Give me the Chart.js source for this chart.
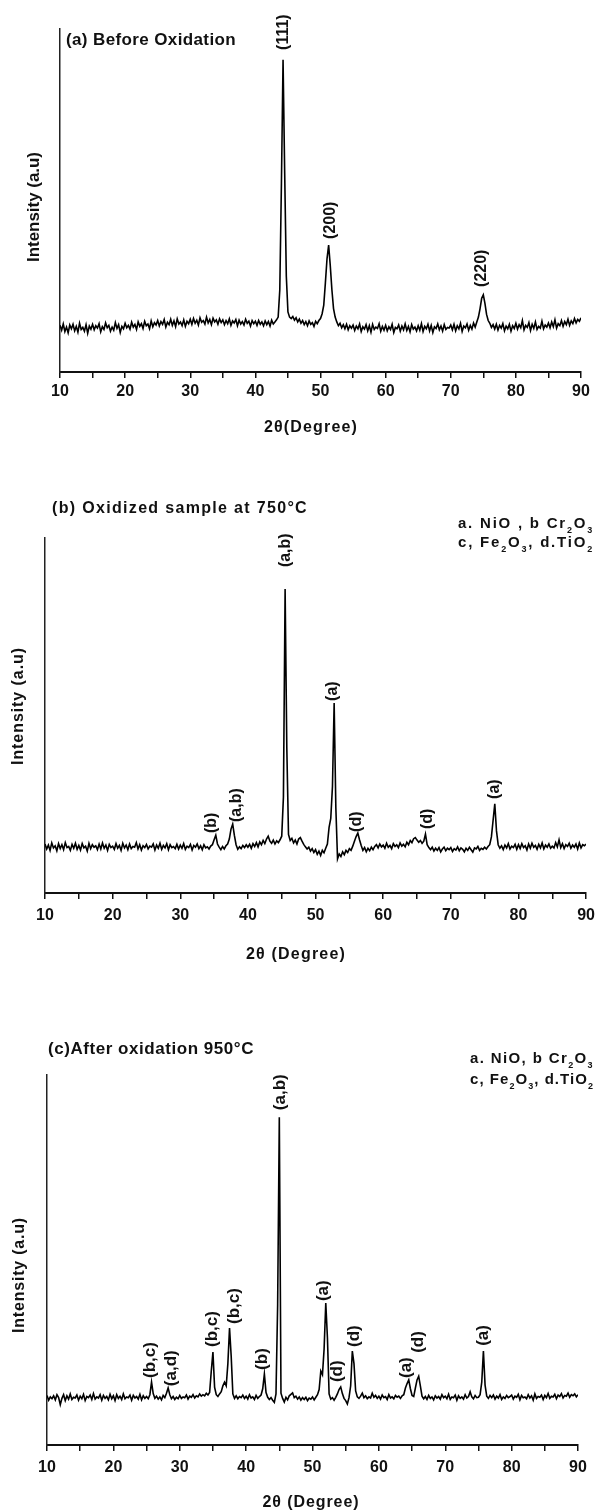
<!DOCTYPE html>
<html><head><meta charset="utf-8">
<script src="https://cdn.jsdelivr.net/npm/chart.js@4"></script>
<style>
html,body{margin:0;padding:0;background:#fff;}
#wrap{position:relative;width:602px;height:1512px;overflow:hidden;background:#fff;}
canvas{position:absolute;left:0;}
</style></head><body>
<div id="wrap">
<canvas id="ca" width="602" height="450" style="top:0px"></canvas>
<canvas id="cb" width="602" height="500" style="top:470px"></canvas>
<canvas id="cc" width="602" height="522" style="top:990px"></canvas>
</div>
<script>
// ---------- data ----------
const X_START = 10;        // first 2θ sample (degree)
const X_STEP = 0.25;       // sampling step (degree)
const X_MIN = 10, X_MAX = 90, TICK_STEP = 5;
const TICK_LABELS = [10, 20, 30, 40, 50, 60, 70, 80, 90];

// (a) Before oxidation, intensity (a.u., 0-100 scale)
const intensityA = [
13.6,12.2,14.0,11.8,13.1,11.4,13.7,12.6,13.9,12.0,13.3,11.6,14.2,12.4,13.0,11.9,13.8,11.3,13.4,12.5,
13.9,12.3,13.5,12.8,14.1,11.7,13.2,12.4,14.3,12.9,13.6,11.9,13.1,12.2,14.4,12.7,13.8,11.5,13.3,12.6,
14.2,12.9,13.6,12.5,14.5,13.1,13.9,12.4,14.6,13.3,14.1,12.7,14.8,13.5,14.0,12.6,14.9,13.2,14.4,13.7,
15.0,13.4,14.7,13.9,15.3,13.1,14.5,13.8,15.4,13.6,14.9,13.2,15.5,14.0,14.6,13.5,15.2,13.3,14.8,14.1,
15.4,13.9,15.6,14.2,15.1,13.7,15.8,14.5,15.0,14.0,16.0,14.3,15.3,13.8,15.7,14.6,15.2,13.9,15.5,14.4,
15.2,13.8,15.0,14.1,15.5,13.6,14.9,14.3,15.3,13.5,15.1,14.0,14.7,13.7,15.4,14.2,14.8,13.4,15.0,14.1,
14.8,13.6,15.0,13.9,14.6,13.5,14.9,13.8,14.7,13.4,15.1,14.0,14.6,15.2,16.0,24,55,91,58,28,
17.5,16.0,15.6,16.2,15.1,15.8,14.6,15.4,14.2,15.0,13.8,14.7,13.5,14.9,13.9,14.4,13.3,14.8,14.1,15.0,
15.6,17.0,19.5,26,33,37,31,24,18.5,16.0,14.6,13.5,14.2,12.9,13.8,12.6,13.9,12.3,13.5,12.8,
13.7,12.1,13.4,12.6,14.0,11.8,13.2,12.5,13.8,12.0,13.5,11.6,13.9,12.4,13.1,12.7,14.1,11.9,13.3,12.2,
13.6,12.0,13.2,12.4,13.9,11.5,13.0,12.6,13.7,11.9,13.4,12.3,14.0,12.1,13.3,11.7,13.8,12.5,13.1,12.0,
13.5,12.2,14.1,11.8,13.3,12.6,13.9,12.0,13.6,11.5,13.2,12.7,14.0,12.3,13.4,11.9,13.8,12.4,13.0,12.8,
13.7,12.3,13.9,12.0,13.5,12.6,14.2,11.8,13.4,12.9,14.0,12.2,13.6,12.5,14.3,13.1,14.6,16.0,18.5,21.5,
22.5,20.0,16.8,15.0,14.2,13.0,13.8,12.5,13.9,12.2,13.6,12.8,14.1,12.0,13.4,12.6,13.9,11.9,13.5,12.7,
14.2,12.5,13.8,12.9,15.0,12.3,13.6,13.0,14.4,12.1,13.9,12.7,14.6,12.4,13.3,12.8,14.8,12.6,13.7,13.1,
14.3,12.9,14.6,13.2,15.2,12.8,14.1,13.5,15.0,13.3,14.7,13.8,15.4,13.6,14.9,14.1,15.6,14.3,15.3,14.8,
15.8];

// (b) Oxidized at 750 °C
const intensityB = [
13.8,12.4,13.5,12.0,14.1,12.7,13.3,11.9,13.9,12.5,13.6,12.2,14.2,12.8,13.1,12.0,13.7,12.6,14.0,12.3,
13.4,12.1,13.9,12.7,13.2,11.8,14.0,12.5,13.6,12.9,13.3,12.2,13.8,12.4,14.1,12.6,13.5,12.0,13.7,12.8,
13.2,12.3,13.9,12.6,13.4,12.0,14.0,12.7,13.5,12.2,13.8,12.5,13.1,12.9,14.2,12.4,13.6,12.1,13.3,12.8,
13.7,12.4,13.2,12.9,13.8,12.1,13.5,12.6,14.0,12.3,13.4,12.7,13.9,12.2,13.6,12.8,13.1,12.5,13.7,12.4,
13.5,12.6,13.9,12.3,13.2,12.8,13.7,12.1,13.4,12.9,13.8,12.5,13.3,12.2,13.6,12.7,13.0,12.4,13.2,13.6,
15.0,16.3,13.8,12.9,12.2,13.1,12.4,13.3,13.8,15.2,18.0,19.4,16.2,13.6,12.3,13.0,12.5,13.4,12.8,13.6,
12.9,13.7,12.6,13.9,13.1,14.2,13.0,14.4,13.6,14.8,13.9,15.2,16.0,14.6,14.0,14.9,13.8,14.7,14.2,15.0,
16.0,27,85.6,41,16.5,14.8,15.4,14.1,14.9,13.8,15.2,15.6,14.6,13.7,13.0,12.4,12.9,11.8,12.5,11.4,
12.2,10.9,11.8,10.6,12.0,11.3,12.6,13.8,18.5,21.0,30,53.5,24,9.6,11.0,10.3,11.6,10.8,12.0,11.4,
12.5,12.0,13.2,14.6,15.9,16.9,15.0,13.4,12.0,12.8,11.6,12.6,11.9,12.9,12.2,13.1,13.6,12.7,13.8,13.0,
13.5,12.6,14.0,12.9,13.4,12.5,13.9,13.1,13.6,12.8,14.1,13.2,13.7,13.0,14.3,13.6,14.8,14.2,15.3,15.6,
14.9,14.3,14.8,14.0,14.6,16.6,13.6,12.8,12.2,12.9,11.8,12.6,12.0,12.8,11.6,12.4,12.9,11.9,12.6,12.2,
12.8,11.7,12.5,12.1,13.0,11.9,12.7,12.3,11.6,12.6,12.0,12.9,12.2,11.5,12.7,12.4,13.1,12.0,12.6,12.3,
12.9,12.4,13.1,13.6,15.8,20.5,25.1,17.5,13.6,12.6,13.3,12.2,13.5,12.7,13.9,12.4,13.2,12.8,13.7,12.3,
13.6,12.5,13.9,12.8,13.3,12.1,13.8,12.6,14.0,12.9,13.4,12.3,13.7,12.7,14.1,12.4,13.5,12.9,13.8,12.6,
13.2,12.7,14.2,13.0,15.0,12.8,13.9,12.5,13.6,13.1,14.0,12.6,13.5,12.9,13.8,12.4,14.1,12.7,13.6,13.3,
13.8];

// (c) After oxidation at 950 °C
const intensityC = [
13.4,12.1,13.0,12.5,13.3,12.2,13.6,12.8,10.9,12.6,13.6,12.0,13.3,12.4,13.8,12.3,12.9,12.7,13.5,12.1,
13.2,12.5,13.7,12.0,13.1,12.8,13.5,12.3,13.9,12.4,13.0,12.7,13.6,12.1,13.4,12.6,13.1,12.2,13.7,12.5,
13.3,12.0,13.6,12.6,13.2,12.3,13.8,12.5,13.0,12.8,13.5,12.1,13.4,12.7,13.1,12.4,13.7,12.2,13.3,12.6,
13.1,12.5,13.6,17.0,13.9,12.6,13.2,12.4,13.0,12.2,13.4,12.8,14.0,15.4,13.6,12.5,13.1,12.3,12.9,12.5,
13.4,12.6,13.0,12.8,13.5,12.4,13.2,12.9,13.6,12.7,13.3,13.0,13.8,13.2,13.6,13.3,14.0,13.5,14.2,20.0,
25.1,15.6,13.6,13.1,13.8,14.4,16.0,17.0,16.0,22.0,31.6,24,13.8,12.6,13.3,12.5,13.1,12.8,13.5,12.6,
13.2,12.4,13.6,12.7,13.0,12.3,13.4,12.6,13.1,13.5,15.2,19.2,14.2,12.9,12.3,12.8,12.1,11.5,13.8,38,
88.6,14.0,12.6,11.6,12.9,12.2,13.3,13.7,14.1,12.8,13.2,12.4,13.0,12.1,12.8,12.3,12.9,12.0,12.7,12.4,
13.0,12.2,12.9,13.6,15.0,20.0,19.0,26.0,38.4,29.0,13.8,12.4,12.8,12.1,12.9,13.8,15.0,15.7,13.9,12.6,
12.0,11.1,12.8,16.0,25.4,22.0,14.6,13.0,12.6,13.2,14.0,12.8,13.3,12.5,13.0,12.7,14.0,12.9,13.4,12.6,
13.2,12.4,13.5,12.8,13.1,12.3,13.6,12.7,13.0,12.5,13.4,12.9,13.2,12.6,13.3,13.6,15.4,16.6,17.6,15.2,
13.4,13.1,15.4,17.6,18.6,16.0,13.2,12.5,13.1,12.3,13.4,12.6,13.0,12.2,13.3,12.7,13.1,12.4,13.6,12.8,
13.2,12.5,13.7,12.3,13.0,12.8,13.5,12.1,13.3,12.6,13.0,12.4,13.6,12.7,13.1,14.4,13.0,12.5,13.4,12.8,
12.9,13.6,17.0,25.4,16.2,13.2,12.6,13.4,12.8,13.5,12.4,13.2,12.7,13.6,12.3,13.0,12.6,13.4,12.8,13.1,
13.5,12.4,13.2,12.9,13.7,12.2,13.4,12.8,13.0,12.5,13.6,12.7,13.3,12.1,13.8,12.6,13.1,12.9,13.5,12.3,
13.4,12.8,13.9,12.6,13.2,13.0,13.7,12.5,13.5,13.1,13.9,12.7,13.4,13.2,14.0,12.9,13.6,13.3,13.8,13.0,
13.6];

// peak annotations: text, 2θ position, intensity where the (rotated) label starts
const peakTextA = ['(111)', '(200)', '(220)'];
const peakPosA  = [44.3, 51.5, 74.7];
const peakBaseA = [93.9, 38.8, 24.8];

const peakTextB = ['(a,b)', '(b)', '(a,b)', '(a)', '(d)', '(d)', '(a)'];
const peakPosB  = [45.6, 34.6, 38.3, 52.5, 56.1, 66.5, 76.4];
const peakBaseB = [91.8, 16.9, 20.0, 54.1, 17.2, 18.0, 26.5];

const peakTextC = ['(b,c)', '(a,d)', '(b,c)', '(b,c)', '(b)', '(a,b)', '(a)', '(d)', '(d)', '(a)', '(d)', '(a)'];
const peakPosC  = [25.5, 28.8, 34.85, 38.2, 42.5, 45.1, 51.7, 53.8, 56.3, 64.1, 66.0, 75.8];
const peakBaseC = [18.1, 15.9, 26.5, 32.7, 20.3, 90.5, 38.9, 17.0, 26.5, 18.1, 24.9, 26.8];

[intensityA, intensityB, intensityC].forEach((a, i) => {
  if (a.length !== 321) console.error('series ' + i + ' length ' + a.length);
});

// ---------- drawing helpers ----------
const FONT = "'Liberation Sans', Arial, Helvetica, sans-serif";
function setSpacing(ctx, px) { if ('letterSpacing' in ctx) ctx.letterSpacing = px + 'px'; }
function fitSpacing(ctx, text, target) {
  setSpacing(ctx, 0);
  if (!target) return;
  const w = ctx.measureText(text).width;
  const n = [...text].length;
  let s = (target - w) / Math.max(n, 1);
  s = Math.max(-1, Math.min(4, s));
  setSpacing(ctx, s);
}
function drawRich(ctx, x, y, segs, size, target) {
  const main = `bold ${size}px ${FONT}`;
  const sub = `bold ${Math.round(size * 0.6)}px ${FONT}`;
  setSpacing(ctx, 0);
  let nat = 0, n = 0;
  segs.forEach(s => { ctx.font = s.sub ? sub : main; nat += ctx.measureText(s.t).width; n += s.t.length; });
  let sp = target ? (target - nat) / n : 0;
  sp = Math.max(-1, Math.min(4, sp));
  setSpacing(ctx, sp);
  ctx.textAlign = 'left';
  ctx.textBaseline = 'alphabetic';
  let cx = x;
  segs.forEach(s => {
    ctx.font = s.sub ? sub : main;
    ctx.fillText(s.t, cx, y + (s.sub ? size * 0.3 : 0));
    cx += ctx.measureText(s.t).width;
  });
  setSpacing(ctx, 0);
}

function textPlugin(spec) {
  return {
    id: 'panelText',
    afterDraw(chart) {
      const ctx = chart.ctx;
      const xs = chart.scales.x, ys = chart.scales.y;
      ctx.save();
      ctx.fillStyle = '#111';
      // panel title
      const t = spec.title;
      ctx.font = `bold ${t.size}px ${FONT}`;
      fitSpacing(ctx, t.text, t.width);
      ctx.textAlign = 'left'; ctx.textBaseline = 'alphabetic';
      ctx.fillText(t.text, t.x, t.y);
      setSpacing(ctx, 0);
      // legend
      if (spec.legend) {
        spec.legend.lines.forEach((ln, i) => drawRich(ctx, spec.legend.x, spec.legend.y[i], ln, spec.legend.size, spec.legend.width));
      }
      // y title
      const yt = spec.yTitle;
      ctx.save();
      ctx.translate(yt.x, yt.y);
      ctx.rotate(-Math.PI / 2);
      ctx.font = `bold ${yt.size}px ${FONT}`;
      fitSpacing(ctx, yt.text, yt.length);
      ctx.textAlign = 'center'; ctx.textBaseline = 'middle';
      ctx.fillText(yt.text, 0, 0);
      ctx.restore();
      setSpacing(ctx, 0);
      // x title
      const xt = spec.xTitle;
      ctx.font = `bold ${xt.size}px ${FONT}`;
      fitSpacing(ctx, xt.text, xt.width);
      ctx.textAlign = 'center'; ctx.textBaseline = 'middle';
      ctx.fillText(xt.text, xt.x, xt.y);
      setSpacing(ctx, 0);
      // peak labels
      ctx.font = `bold ${spec.labelSize}px ${FONT}`;
      spec.labels.text.forEach((txt, i) => {
        const px = xs.getPixelForValue(spec.labels.pos[i]);
        const py = ys.getPixelForValue(spec.labels.base[i]);
        ctx.save();
        ctx.translate(px, py);
        ctx.rotate(-Math.PI / 2);
        ctx.textAlign = 'left'; ctx.textBaseline = 'middle';
        ctx.fillText(txt, 0, 0);
        ctx.restore();
      });
      ctx.restore();
    }
  };
}

function makePanel(id, series, geom, spec) {
  const pts = series.map((y, i) => ({ x: X_START + i * X_STEP, y: y }));
  return new Chart(document.getElementById(id), {
    type: 'line',
    data: { datasets: [{ data: pts, borderColor: '#000', borderWidth: 1.6, pointRadius: 0, tension: 0, fill: false }] },
    options: {
      responsive: false, animation: false, devicePixelRatio: 1,
      layout: { padding: { left: 0, top: geom.top, right: geom.right, bottom: 0 } },
      plugins: { legend: { display: false }, tooltip: { enabled: false }, title: { display: false } },
      scales: {
        x: {
          type: 'linear', min: X_MIN, max: X_MAX,
          afterFit: s => { s.height = geom.xh; },
          ticks: {
            stepSize: TICK_STEP, autoSkip: false, maxRotation: 0, minRotation: 0,
            padding: geom.tickPad, color: '#111',
            font: { family: FONT, size: geom.tickSize, weight: 'bold' },
            callback: v => TICK_LABELS.includes(v) ? String(v) : ''
          },
          grid: { display: true, drawOnChartArea: false, drawTicks: true, tickLength: 6, color: '#111', lineWidth: 1.5 },
          border: { display: true, color: '#111', width: 2 }
        },
        y: {
          min: 0, max: 100,
          afterFit: s => { s.width = geom.left; },
          ticks: { display: false },
          grid: { display: false },
          border: { display: true, color: '#222', width: 1.5 }
        }
      }
    },
    plugins: [textPlugin(spec)]
  });
}

const legendLine1B = [{ t: 'a. NiO , b Cr' }, { t: '2', sub: true }, { t: 'O' }, { t: '3', sub: true }];
const legendLine1C = [{ t: 'a. NiO, b Cr' }, { t: '2', sub: true }, { t: 'O' }, { t: '3', sub: true }];
const legendLine2 = [{ t: 'c, Fe' }, { t: '2', sub: true }, { t: 'O' }, { t: '3', sub: true }, { t: ', d.TiO' }, { t: '2', sub: true }];

makePanel('ca', intensityA,
  { left: 60, top: 29, right: 21, xh: 78, tickPad: 4, tickSize: 16 },
  {
    title: { text: '(a) Before Oxidation', x: 66, y: 45, size: 17, width: 170 },
    yTitle: { text: 'Intensity (a.u)', x: 34, y: 207, size: 17, length: 110 },
    xTitle: { text: '2θ(Degree)', x: 311, y: 428, size: 16, width: 94 },
    labelSize: 16,
    labels: { text: peakTextA, pos: peakPosA, base: peakBaseA }
  });

makePanel('cb', intensityB,
  { left: 45, top: 68, right: 10, xh: 77, tickPad: 7, tickSize: 16 },
  {
    title: { text: '(b) Oxidized sample at 750°C', x: 52, y: 43, size: 16, width: 256 },
    legend: { x: 458, y: [58, 77], size: 15, width: 136, lines: [legendLine1B, legendLine2] },
    yTitle: { text: 'Intensity (a.u)', x: 19, y: 236, size: 16, length: 118 },
    xTitle: { text: '2θ (Degree)', x: 296, y: 485, size: 16, width: 100 },
    labelSize: 16,
    labels: { text: peakTextB, pos: peakPosB, base: peakBaseB }
  });

makePanel('cc', intensityC,
  { left: 47, top: 85, right: 24, xh: 67, tickPad: 7, tickSize: 16 },
  {
    title: { text: '(c)After oxidation 950°C', x: 48, y: 64, size: 17, width: 206 },
    legend: { x: 470, y: [73, 94], size: 15, width: 124, lines: [legendLine1C, legendLine2] },
    yTitle: { text: 'Intensity (a.u)', x: 20, y: 285, size: 16, length: 116 },
    xTitle: { text: '2θ (Degree)', x: 311, y: 513, size: 16, width: 97 },
    labelSize: 17,
    labels: { text: peakTextC, pos: peakPosC, base: peakBaseC }
  });
</script>
</body></html>
